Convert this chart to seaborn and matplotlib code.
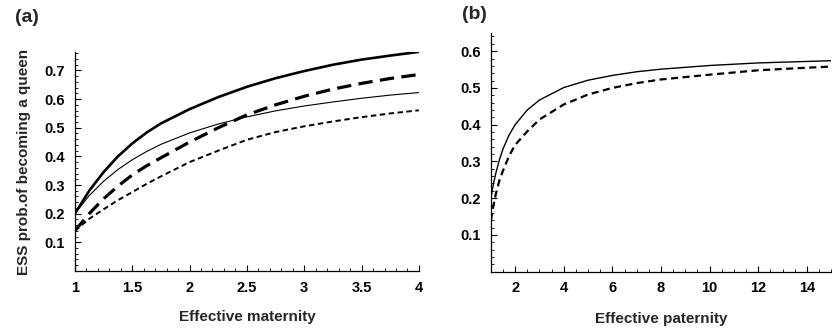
import numpy as np
import pandas as pd
import matplotlib
matplotlib.use("Agg")
import matplotlib.pyplot as plt
import seaborn as sns
from matplotlib.ticker import MultipleLocator

# ---- Panel (a) data: effective maternity ----
mat_x = [1.0, 1.125, 1.25, 1.375, 1.5, 1.625, 1.75, 2.0, 2.25, 2.5, 2.75, 3.0, 3.25, 3.5, 3.75, 4.0]
a_thick_solid = [0.200, 0.280, 0.345, 0.400, 0.445, 0.483, 0.515, 0.565, 0.607, 0.643, 0.673, 0.698, 0.720, 0.738, 0.752, 0.765]
a_thin_solid = [0.200, 0.263, 0.313, 0.354, 0.388, 0.417, 0.442, 0.482, 0.513, 0.538, 0.559, 0.576, 0.590, 0.603, 0.614, 0.623]
a_thick_dash = [0.140, 0.200, 0.252, 0.296, 0.335, 0.367, 0.395, 0.450, 0.500, 0.545, 0.580, 0.610, 0.635, 0.655, 0.672, 0.686]
a_thin_dash = [0.140, 0.182, 0.215, 0.247, 0.275, 0.304, 0.330, 0.380, 0.420, 0.458, 0.485, 0.505, 0.522, 0.537, 0.550, 0.561]

# ---- Panel (b) data: effective paternity ----
pat_x = [1.0, 1.1, 1.2, 1.35, 1.5, 1.75, 2.0, 2.5, 3.0, 4.0, 5.0, 6.0, 7.0, 8.0, 10.0, 12.0, 14.0, 15.0]
b_solid = [0.200, 0.237, 0.267, 0.304, 0.334, 0.372, 0.400, 0.440, 0.467, 0.501, 0.521, 0.534, 0.544, 0.551, 0.561, 0.568, 0.572, 0.574]
b_dash = [0.140, 0.178, 0.210, 0.248, 0.275, 0.315, 0.345, 0.382, 0.414, 0.455, 0.482, 0.500, 0.513, 0.523, 0.536, 0.548, 0.555, 0.558]

a_xticks = [1, 1.5, 2, 2.5, 3, 3.5, 4]
a_xticklabels = ["1", "1.5", "2", "2.5", "3", "3.5", "4"]
a_yticks = [0.1, 0.2, 0.3, 0.4, 0.5, 0.6, 0.7]
b_xticks = [2, 4, 6, 8, 10, 12, 14]
b_yticks = [0.1, 0.2, 0.3, 0.4, 0.5, 0.6]

sns.set_style("ticks")
plt.rcParams['font.family'] = ['Liberation Sans', 'DejaVu Sans']
plt.rcParams['font.weight'] = 'bold'

fig = plt.figure(figsize=(8.32, 3.28), dpi=100)
axa = fig.add_axes([0.090, 0.174, 0.4135, 0.667])
axb = fig.add_axes([0.590, 0.172, 0.409, 0.728])

def draw(ax, x, y, lw, dashes):
    df = pd.DataFrame({"x": x, "y": y})
    sns.lineplot(data=df, x="x", y="y", ax=ax, color="black", lw=lw)
    ln = ax.get_lines()[-1]
    if dashes is not None:
        ln.set_dashes(dashes)
    ln.set_solid_capstyle("butt")
    ln.set_dash_capstyle("butt")
    ln.set_solid_joinstyle("round")

draw(axa, mat_x, a_thick_solid, 1.9, None)
draw(axa, mat_x, a_thin_solid, 0.8, None)
draw(axa, mat_x, a_thick_dash, 2.3, (4.5, 2.3))
draw(axa, mat_x, a_thin_dash, 1.4, (2.8, 1.8))

draw(axb, pat_x, b_solid, 1.0, None)
draw(axb, pat_x, b_dash, 1.6, (3.2, 2.0))

def style(ax):
    for s in ["top", "right"]:
        ax.spines[s].set_visible(False)
    for s in ["left", "bottom"]:
        ax.spines[s].set_linewidth(0.9)
        ax.spines[s].set_color("black")
    ax.tick_params(which="major", direction="in", length=4, width=0.8, colors="black",
                   labelsize=10.5, pad=7)
    ax.tick_params(which="minor", direction="in", length=2, width=0.6, colors="black")
    for lab in ax.get_xticklabels() + ax.get_yticklabels():
        lab.set_fontweight("bold")

axa.set_xlim(1, 4)
axa.set_ylim(0, 0.764)
axa.set_xticks(a_xticks)
axa.set_xticklabels(a_xticklabels)
axa.set_yticks(a_yticks)
axa.set_yticklabels([f"{v:.1f}" for v in a_yticks])
axa.xaxis.set_minor_locator(MultipleLocator(0.1))
axa.yaxis.set_minor_locator(MultipleLocator(0.02))
axa.set_xlabel("Effective maternity", fontsize=11, fontweight="bold", labelpad=11)
axa.set_ylabel("ESS prob.of becoming a queen", fontsize=11, fontweight="bold", labelpad=10)
style(axa)

axb.set_xlim(1, 15)
axb.set_ylim(0, 0.65)
axb.set_xticks(b_xticks)
axb.set_xticklabels([str(v) for v in b_xticks])
axb.set_yticks(b_yticks)
axb.set_yticklabels([f"{v:.1f}" for v in b_yticks])
axb.xaxis.set_minor_locator(MultipleLocator(0.5))
axb.yaxis.set_minor_locator(MultipleLocator(0.02))
axb.set_xlabel("Effective paternity", fontsize=11, fontweight="bold", labelpad=12)
axb.set_ylabel("")
style(axb)

fig.text(0.018, 0.948, "(a)", fontsize=14, fontweight="bold", va="center", ha="left")
fig.text(0.555, 0.955, "(b)", fontsize=14, fontweight="bold", va="center", ha="left")

fig.savefig("out.png", dpi=100)
